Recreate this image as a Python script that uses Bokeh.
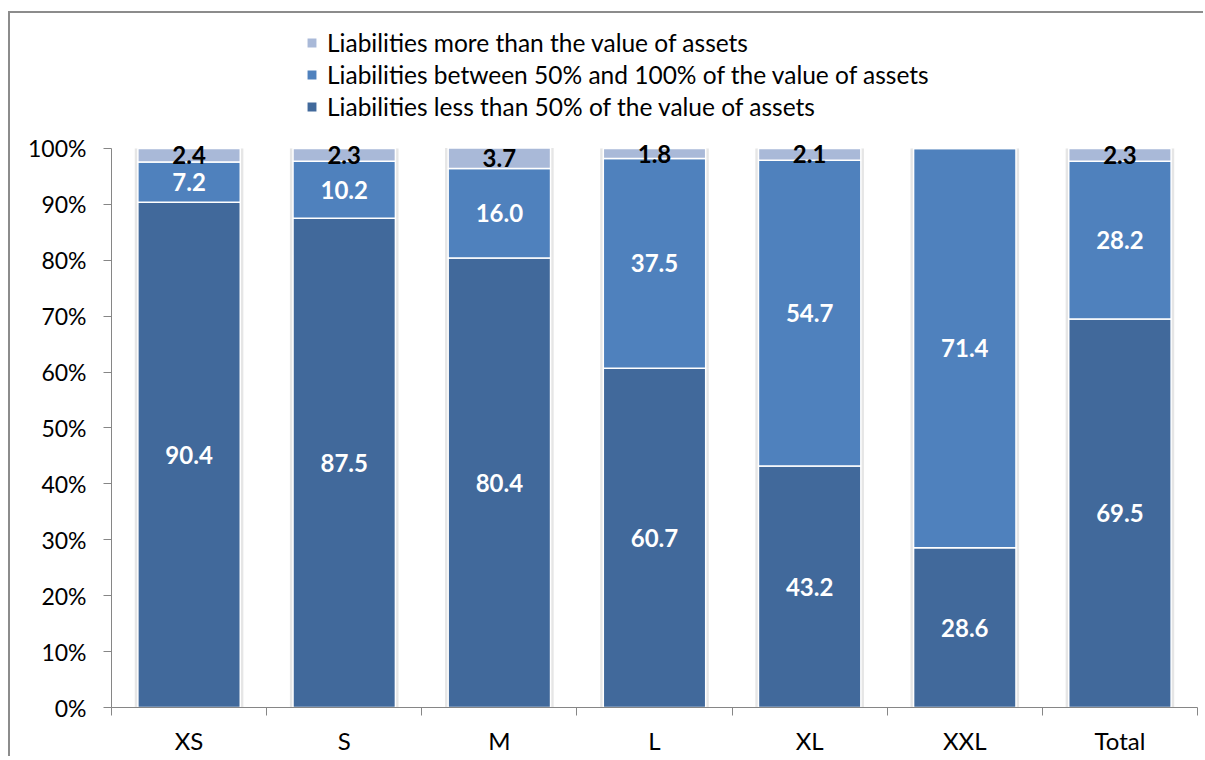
from bokeh.plotting import figure
from bokeh.models import (Range1d, FixedTicker, PrintfTickFormatter, ColumnDataSource,
                          Legend, LegendItem)
from bokeh.core.properties import value
from bokeh.embed import file_html
from bokeh.resources import INLINE

# ---- data ----
categories = ["XS", "S", "M", "L", "XL", "XXL", "Total"]
less_than_50 = [90.4, 87.5, 80.4, 60.7, 43.2, 28.6, 69.5]
between_50_100 = [7.2, 10.2, 16.0, 37.5, 54.7, 71.4, 28.2]
more_than_assets = [2.4, 2.3, 3.7, 1.8, 2.1, 0.0, 2.3]
series_names = [
    "Liabilities less than 50% of the value of assets",
    "Liabilities between 50% and 100% of the value of assets",
    "Liabilities more than the value of assets",
]
y_ticks = [0, 10, 20, 30, 40, 50, 60, 70, 80, 90, 100]

colors = ["#41699B", "#4F81BD", "#A9B9D8"]
FONT = "Lato"
AXIS_GRAY = "#868686"

n = len(categories)
xc = [i + 0.5 for i in range(n)]
src = ColumnDataSource(dict(x=xc, s0=less_than_50, s1=between_50_100, s2=more_than_assets,
                            tot=[a + b + c for a, b, c in zip(less_than_50, between_50_100, more_than_assets)]))

# frame extends above 100% so the legend sits inside it; axis line bounded to 0..100
p = figure(width=1195, height=745, x_range=Range1d(0, n), y_range=Range1d(0, 124.15),
           output_backend="svg", toolbar_location=None,
           min_border_left=101, min_border_right=8, min_border_top=0, min_border_bottom=51)
p.styles = {"margin-left": "10px", "margin-top": "13px",
            "box-shadow": "-2px -2px 0px 0px #8c8c8c"}
p.outline_line_color = None
p.xgrid.grid_line_color = None
p.ygrid.grid_line_color = None
p.background_fill_color = "white"
p.border_fill_color = "white"

# soft shadow behind bars
p.vbar(x="x", top="tot", bottom=0, width=0.70, source=src, fill_color="#e6e6e6",
       line_color=None)
rends = p.vbar_stack(["s0", "s1", "s2"], x="x", width=0.66, source=src,
                     fill_color=colors, line_color="white", line_width=1.5)

# labels
wx, wy, wt, bx, by, bt = [], [], [], [], [], []
for i in range(n):
    v0, v1, v2 = less_than_50[i], between_50_100[i], more_than_assets[i]
    wx += [xc[i], xc[i]]
    wy += [v0 / 2, v0 + v1 / 2]
    wt += [f"{v0:.1f}", f"{v1:.1f}"]
    if v2 > 0:
        bx.append(xc[i]); by.append(v0 + v1 + v2 / 2); bt.append(f"{v2:.1f}")
p.text(x=wx, y=wy, text=wt, text_color="white", text_font=value(FONT), text_font_style="bold",
       text_font_size="24px", text_align="center", text_baseline="middle")
p.text(x=bx, y=by, text=bt, text_color="black", text_font=value(FONT), text_font_style="bold",
       text_font_size="24px", text_align="center", text_baseline="middle")

# x axis
xa = p.xaxis[0]
xa.ticker = FixedTicker(ticks=xc, minor_ticks=list(range(n + 1)))
xa.major_label_overrides = {x: c for x, c in zip(xc, categories)}
xa.major_tick_line_color = None
xa.major_tick_out = 0
xa.major_tick_in = 0
xa.minor_tick_out = 8
xa.minor_tick_in = 0
xa.minor_tick_line_color = AXIS_GRAY
xa.axis_line_color = AXIS_GRAY
xa.major_label_standoff = 10
xa.major_label_text_font = FONT
xa.major_label_text_font_size = "24px"
xa.major_label_text_color = "black"

# y axis
ya = p.yaxis[0]
ya.ticker = FixedTicker(ticks=y_ticks)
ya.formatter = PrintfTickFormatter(format="%d%%")
ya.bounds = (0, 100)
ya.major_tick_out = 8
ya.major_tick_in = 0
ya.major_tick_line_color = AXIS_GRAY
ya.minor_tick_line_color = None
ya.axis_line_color = AXIS_GRAY
ya.major_label_standoff = 17
ya.major_label_text_font = FONT
ya.major_label_text_font_size = "23px"
ya.major_label_text_color = "black"

legend = Legend(items=[LegendItem(label=series_names[i], renderers=[rends[i]]) for i in (2, 1, 0)],
                location=(194, 585), orientation="vertical",
                glyph_width=13, glyph_height=13, label_height=32, spacing=0, padding=0, margin=0,
                label_standoff=9, label_text_font=FONT, label_text_font_size="24.5px",
                label_text_color="black", border_line_color=None, background_fill_alpha=0)
p.add_layout(legend, "center")

open("out.html", "w").write(file_html(p, INLINE))
